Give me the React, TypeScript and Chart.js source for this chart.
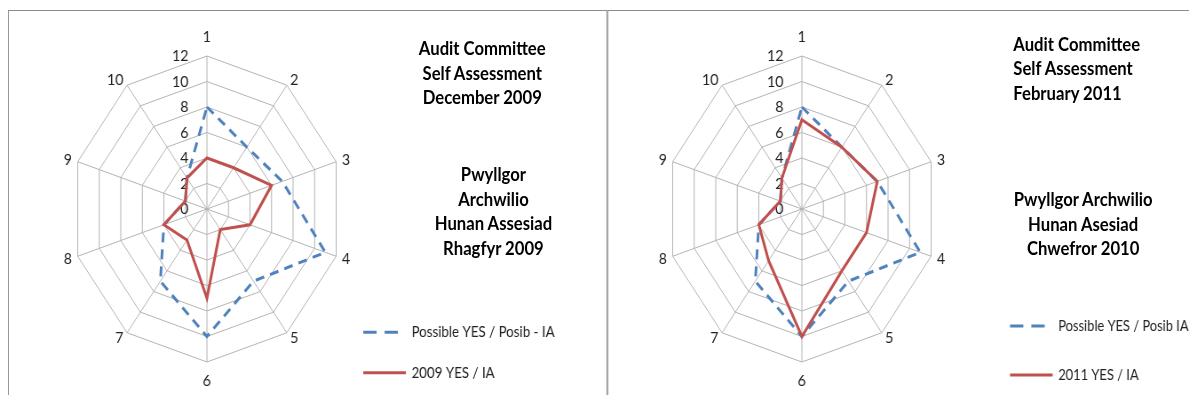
import React, { useEffect, useRef } from 'react';
import { Chart, registerables } from 'chart.js';

Chart.register(...registerables);

// ---------- data ----------
const axisLabels = ['1', '2', '3', '4', '5', '6', '7', '8', '9', '10'];
const possibleDec2009 = [8, 6, 7, 11, 7, 10, 7, 4, 2, 3];
const yesDec2009 = [4, 4, 6, 4, 2, 7, 3, 4, 2, 3];
const possibleFeb2011 = [8, 6, 7, 11, 7, 10, 7, 4, 2, 3];
const yesFeb2011 = [7, 6, 7, 6, 6, 10, 5, 4, 2, 3];
const scaleMin = 0;
const scaleMax = 12;
const scaleStep = 2;

const leftSeriesNames = ['Possible YES / Posib - IA', '2009 YES / IA'];
const rightSeriesNames = ['Possible YES / Posib IA', '2011 YES / IA'];
const leftTitleEn = ['Audit Committee', 'Self Assessment', 'December 2009'];
const leftTitleCy = ['Pwyllgor', 'Archwilio', 'Hunan Assesiad', 'Rhagfyr 2009'];
const rightTitleEn = ['Audit Committee', 'Self Assessment', 'February 2011'];
const rightTitleCy = ['Pwyllgor Archwilio', 'Hunan Asesiad', 'Chwefror 2010'];

// ---------- styles ----------
const BLUE = '#4F81BD';
const RED = '#C0504D';
const GRID = '#b3b3b3';
const TEXT = '#222222';
const FONT = 'Lato, "Open Sans", "DejaVu Sans", sans-serif';
const SX = 0.888; // horizontal squeeze of the original picture

// tick labels to the left of the first spoke, and Excel-style spoke labels
function makeLabelPlugin(tickOffset: number, labelGap: number, vShift: number) {
  return {
    id: 'excelLabels',
    beforeDatasetsDraw(chart: any) {
      const scale = chart.scales.r;
      const ctx = chart.ctx;
      ctx.save();
      ctx.font = `16px ${FONT}`;
      ctx.fillStyle = TEXT;
      ctx.textBaseline = 'middle';
      ctx.textAlign = 'right';
      scale.ticks.forEach((t: any) => {
        const d = scale.getDistanceFromCenterForValue(t.value);
        ctx.fillText(String(t.label), scale.xCenter - tickOffset, scale.yCenter - d);
      });
      const labels = chart.data.labels as string[];
      const outer = scale.getDistanceFromCenterForValue(scaleMax) + labelGap;
      labels.forEach((lab, i) => {
        const pos = scale.getPointPosition(i, outer);
        const deg = Math.round((scale.getIndexAngle(i) * 180) / Math.PI) % 360;
        let y = pos.y;
        if (deg === 0) {
          ctx.textAlign = 'center';
          y -= vShift;
        } else if (deg === 180) {
          ctx.textAlign = 'center';
          y += vShift;
        } else if (deg < 180) {
          ctx.textAlign = 'left';
        } else {
          ctx.textAlign = 'right';
        }
        ctx.fillText(lab, pos.x, y);
      });
      ctx.restore();
    },
  };
}

function makeLegendPlugin(x: number, ys: number[], fontSize: number) {
  return {
    id: 'sideLegend',
    afterDraw(chart: any) {
      const ctx = chart.ctx;
      ctx.save();
      chart.data.datasets.forEach((ds: any, i: number) => {
        const y = ys[i];
        ctx.beginPath();
        ctx.setLineDash(ds.borderDash && ds.borderDash.length ? [15, 9] : []);
        ctx.lineWidth = ds.borderWidth;
        ctx.strokeStyle = ds.borderColor;
        ctx.lineCap = 'butt';
        ctx.moveTo(x, y);
        ctx.lineTo(x + 48, y);
        ctx.stroke();
        ctx.setLineDash([]);
        ctx.font = `${fontSize}px ${FONT}`;
        ctx.fillStyle = TEXT;
        ctx.textAlign = 'left';
        ctx.textBaseline = 'middle';
        ctx.fillText(ds.label, x + 54.3, y);
      });
      ctx.restore();
    },
  };
}

type PanelProps = {
  left: number;
  width: number;
  height: number;
  padding: { left: number; right: number; top: number; bottom: number };
  names: string[];
  possible: number[];
  yes: number[];
  legendX: number;
  legendYs: number[];
  legendFont: number;
};

function RadarCanvas(p: PanelProps) {
  const ref = useRef<HTMLCanvasElement | null>(null);
  useEffect(() => {
    if (!ref.current) return;
    const chart = new Chart(ref.current, {
      type: 'radar',
      data: {
        labels: axisLabels,
        datasets: [
          {
            label: p.names[0],
            data: p.possible,
            borderColor: BLUE,
            backgroundColor: BLUE,
            borderWidth: 3,
            borderDash: [10, 7],
            pointRadius: 0,
            pointHoverRadius: 0,
            fill: false,
            order: 1,
          },
          {
            label: p.names[1],
            data: p.yes,
            borderColor: RED,
            backgroundColor: RED,
            borderWidth: 3,
            pointRadius: 0,
            pointHoverRadius: 0,
            fill: false,
            order: 0,
          },
        ],
      },
      options: {
        responsive: false,
        maintainAspectRatio: false,
        animation: false,
        events: [],
        layout: { padding: p.padding },
        plugins: {
          legend: { display: false },
          tooltip: { enabled: false },
          title: { display: false },
        },
        scales: {
          r: {
            min: scaleMin,
            max: scaleMax,
            ticks: { stepSize: scaleStep, display: false },
            grid: { color: GRID, lineWidth: 1 },
            angleLines: { color: GRID, lineWidth: 1 },
            pointLabels: { display: false },
          },
        },
      } as any,
      plugins: [makeLabelPlugin(20.7, 6.7, 12.5), makeLegendPlugin(p.legendX, p.legendYs, p.legendFont)],
    });
    return () => chart.destroy();
  }, []);
  return (
    <canvas
      ref={ref}
      width={p.width}
      height={p.height}
      style={{ position: 'absolute', left: p.left, top: 0, width: p.width, height: p.height }}
    />
  );
}

function TextBlock(props: { lines: string[]; left: number; top: number; width: number; align: 'left' | 'center' }) {
  return (
    <div
      style={{
        position: 'absolute',
        left: props.left,
        top: props.top,
        width: props.width,
        textAlign: props.align,
        font: `bold 18.8px/24.5px ${FONT}`,
        color: '#000',
        whiteSpace: 'nowrap',
      }}
    >
      {props.lines.map((l) => (
        <div key={l}>{l}</div>
      ))}
    </div>
  );
}

export default function App() {
  const innerW = 1189 / SX;
  const panelBorder = '1.5px solid #8c8c8c';
  return (
    <div style={{ position: 'relative', width: 1189, height: 387, overflow: 'hidden' }}>
      <div
        style={{
          position: 'absolute',
          left: 0,
          top: 0,
          width: innerW,
          height: 387,
          transform: `scaleX(${SX})`,
          transformOrigin: '0 0',
        }}
      >
        <div
          style={{
            position: 'absolute',
            left: 0,
            top: 2,
            width: 674.5,
            height: 500,
            border: panelBorder,
            boxSizing: 'border-box',
          }}
        />
        <div
          style={{
            position: 'absolute',
            left: 674.5,
            top: 2,
            width: 800,
            height: 500,
            border: panelBorder,
            boxSizing: 'border-box',
          }}
        />
        <RadarCanvas
          left={0}
          width={674}
          height={387}
          padding={{ left: 24, right: 250, top: 48, bottom: 32 }}
          names={leftSeriesNames}
          possible={possibleDec2009}
          yes={yesDec2009}
          legendX={400.1}
          legendYs={[324.3, 364.7]}
          legendFont={15}
        />
        <RadarCanvas
          left={674}
          width={720}
          height={387}
          padding={{ left: 20, right: 300, top: 48, bottom: 32 }}
          names={rightSeriesNames}
          possible={possibleFeb2011}
          yes={yesFeb2011}
          legendX={454.4}
          legendYs={[318, 367]}
          legendFont={14.5}
        />
        <TextBlock lines={leftTitleEn} left={384.1} top={28} width={300} align="center" />
        <TextBlock lines={leftTitleCy} left={396.7} top={154} width={300} align="center" />
        <TextBlock lines={rightTitleEn} left={1132.1} top={23.8} width={200} align="left" />
        <TextBlock lines={rightTitleCy} left={1060.8} top={179} width={300} align="center" />
      </div>
    </div>
  );
}
